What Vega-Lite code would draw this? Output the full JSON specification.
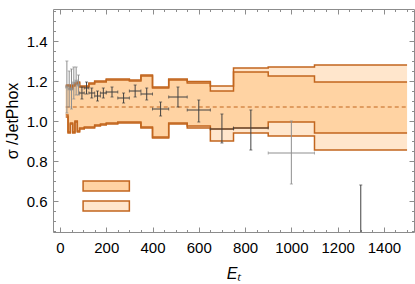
{
  "$schema": "https://vega.github.io/schema/vega-lite/v6.json",
  "width": 361,
  "height": 223,
  "autosize": "none",
  "padding": {"left": 53, "top": 9, "right": 1, "bottom": 52},
  "config": {
    "view": {"stroke": "#8c8c8c", "strokeWidth": 1},
    "font": "Liberation Sans",
    "axis": {
      "domain": false,
      "grid": false,
      "tickColor": "#8c8c8c",
      "labelColor": "#000000",
      "labelFont": "Liberation Sans",
      "titleFont": "Liberation Sans",
      "labelFontSize": 15,
      "titleFontSize": 16,
      "titleFontWeight": "normal",
      "titleColor": "#000000"
    }
  },
  "datasets": {
    "bands": [
      {"et": 25, "lo_out": 1.02, "lo_in": 1.03, "hi_in": 1.175, "hi_out": 1.18},
      {"et": 35, "lo_out": 0.94, "lo_in": 0.945, "hi_in": 1.175, "hi_out": 1.18},
      {"et": 45, "lo_out": 0.985, "lo_in": 0.99, "hi_in": 1.16, "hi_out": 1.165},
      {"et": 55, "lo_out": 0.94, "lo_in": 0.945, "hi_in": 1.175, "hi_out": 1.18},
      {"et": 65, "lo_out": 0.995, "lo_in": 1.0, "hi_in": 1.185, "hi_out": 1.19},
      {"et": 75, "lo_out": 0.945, "lo_in": 0.95, "hi_in": 1.19, "hi_out": 1.195},
      {"et": 85, "lo_out": 0.96, "lo_in": 0.965, "hi_in": 1.17, "hi_out": 1.175},
      {"et": 105, "lo_out": 0.965, "lo_in": 0.97, "hi_in": 1.17, "hi_out": 1.175},
      {"et": 125, "lo_out": 0.965, "lo_in": 0.97, "hi_in": 1.185, "hi_out": 1.19},
      {"et": 150, "lo_out": 0.975, "lo_in": 0.98, "hi_in": 1.195, "hi_out": 1.2},
      {"et": 175, "lo_out": 0.98, "lo_in": 0.985, "hi_in": 1.195, "hi_out": 1.2},
      {"et": 200, "lo_out": 0.985, "lo_in": 0.99, "hi_in": 1.205, "hi_out": 1.21},
      {"et": 250, "lo_out": 0.99, "lo_in": 0.995, "hi_in": 1.205, "hi_out": 1.21},
      {"et": 300, "lo_out": 0.99, "lo_in": 0.995, "hi_in": 1.2, "hi_out": 1.205},
      {"et": 350, "lo_out": 0.965, "lo_in": 0.97, "hi_in": 1.225, "hi_out": 1.23},
      {"et": 400, "lo_out": 0.915, "lo_in": 0.92, "hi_in": 1.165, "hi_out": 1.17},
      {"et": 470, "lo_out": 0.985, "lo_in": 0.99, "hi_in": 1.205, "hi_out": 1.21},
      {"et": 550, "lo_out": 0.965, "lo_in": 0.975, "hi_in": 1.19, "hi_out": 1.197},
      {"et": 650, "lo_out": 0.9, "lo_in": 0.96, "hi_in": 1.15, "hi_out": 1.175},
      {"et": 750, "lo_out": 0.94, "lo_in": 0.965, "hi_in": 1.245, "hi_out": 1.265},
      {"et": 900, "lo_out": 0.925, "lo_in": 0.995, "hi_in": 1.225, "hi_out": 1.27},
      {"et": 1100, "lo_out": 0.855, "lo_in": 0.94, "hi_in": 1.195, "hi_out": 1.28},
      {"et": 1500, "lo_out": 0.855, "lo_in": 0.94, "hi_in": 1.195, "hi_out": 1.28}
    ],
    "points": [
      {"lo": 25, "hi": 35, "et": 30, "y": 1.17, "ylo": 1.04, "yhi": 1.3, "grp": "g"},
      {"lo": 35, "hi": 45, "et": 40, "y": 1.16, "ylo": 1.07, "yhi": 1.25, "grp": "g"},
      {"lo": 45, "hi": 55, "et": 50, "y": 1.16, "ylo": 1.06, "yhi": 1.26, "grp": "g"},
      {"lo": 55, "hi": 65, "et": 60, "y": 1.19, "ylo": 1.11, "yhi": 1.27, "grp": "g"},
      {"lo": 65, "hi": 75, "et": 70, "y": 1.2, "ylo": 1.13, "yhi": 1.27, "grp": "g"},
      {"lo": 75, "hi": 85, "et": 80, "y": 1.18, "ylo": 1.13, "yhi": 1.23, "grp": "g"},
      {"lo": 85, "hi": 105, "et": 95, "y": 1.14, "ylo": 1.11, "yhi": 1.17, "grp": "d"},
      {"lo": 105, "hi": 125, "et": 115, "y": 1.165, "ylo": 1.135, "yhi": 1.195, "grp": "d"},
      {"lo": 125, "hi": 150, "et": 137.5, "y": 1.14, "ylo": 1.115, "yhi": 1.165, "grp": "d"},
      {"lo": 150, "hi": 175, "et": 162.5, "y": 1.125, "ylo": 1.1, "yhi": 1.15, "grp": "d"},
      {"lo": 175, "hi": 200, "et": 187.5, "y": 1.14, "ylo": 1.115, "yhi": 1.165, "grp": "d"},
      {"lo": 200, "hi": 250, "et": 225, "y": 1.145, "ylo": 1.12, "yhi": 1.17, "grp": "d"},
      {"lo": 250, "hi": 300, "et": 275, "y": 1.115, "ylo": 1.09, "yhi": 1.14, "grp": "d"},
      {"lo": 300, "hi": 350, "et": 325, "y": 1.15, "ylo": 1.12, "yhi": 1.18, "grp": "d"},
      {"lo": 350, "hi": 400, "et": 375, "y": 1.135, "ylo": 1.105, "yhi": 1.165, "grp": "d"},
      {"lo": 400, "hi": 470, "et": 435, "y": 1.06, "ylo": 1.025, "yhi": 1.095, "grp": "d"},
      {"lo": 470, "hi": 550, "et": 510, "y": 1.12, "ylo": 1.07, "yhi": 1.17, "grp": "d"},
      {"lo": 550, "hi": 650, "et": 600, "y": 1.055, "ylo": 0.995, "yhi": 1.105, "grp": "d"},
      {"lo": 650, "hi": 750, "et": 700, "y": 0.96, "ylo": 0.89, "yhi": 1.035, "grp": "d"},
      {"lo": 750, "hi": 900, "et": 825, "y": 0.965, "ylo": 0.855, "yhi": 1.055, "grp": "d"},
      {"lo": 900, "hi": 1100, "et": 1000, "y": 0.84, "ylo": 0.685, "yhi": 1.0, "grp": "g"},
      {"lo": 1100, "hi": 1500, "et": 1300, "y": 0.3, "ylo": -0.1, "yhi": 0.68, "grp": "d"}
    ],
    "ref": [{"x": 25, "x2": 1500, "y": 1.07}],
    "legend": [
      {"x": 100, "x2": 300, "y": 0.65, "y2": 0.7, "kind": "inner"},
      {"x": 100, "x2": 300, "y": 0.55, "y2": 0.6, "kind": "outer"}
    ]
  },
  "resolve": {"axis": {"x": "independent", "y": "independent"}},
  "layer": [
    {
      "data": {"name": "bands"},
      "mark": {"type": "area", "interpolate": "step-after", "color": "#FFE6CC"},
      "encoding": {
        "x": {"field": "et", "type": "quantitative", "scale": {"domain": [-30, 1530], "nice": false, "zero": false},
          "axis": {"orient": "bottom", "values": [0, 200, 400, 600, 800, 1000, 1200, 1400], "format": "d", "tickSize": -5, "labelPadding": 13, "title": "Eₜ", "titleFontStyle": "italic", "titlePadding": 10}},
        "y": {"field": "lo_out", "type": "quantitative", "scale": {"domain": [0.445, 1.56], "nice": false, "zero": false},
          "axis": {"orient": "left", "values": [0.6, 0.8, 1.0, 1.2, 1.4], "format": ".1f", "tickSize": -5, "labelPadding": 11, "title": "σ /JetPhox", "titlePadding": 6}},
        "y2": {"field": "hi_out"}
      }
    },
    {
      "data": {"name": "bands"},
      "mark": {"type": "area", "interpolate": "step-after", "color": "#FFD3A3"},
      "encoding": {
        "x": {"field": "et", "type": "quantitative", "scale": {"domain": [-30, 1530], "nice": false, "zero": false},
          "axis": {"orient": "top", "values": [0, 200, 400, 600, 800, 1000, 1200, 1400], "tickSize": -5, "labels": false, "title": null}},
        "y": {"field": "lo_in", "type": "quantitative", "scale": {"domain": [0.445, 1.56], "nice": false, "zero": false},
          "axis": {"orient": "right", "values": [0.6, 0.8, 1.0, 1.2, 1.4], "tickSize": -5, "labels": false, "title": null}},
        "y2": {"field": "hi_in"}
      }
    },
    {
      "data": {"name": "bands"},
      "mark": {"type": "line", "interpolate": "step-after", "color": "#C2661E", "strokeWidth": 1.5},
      "encoding": {
        "x": {"field": "et", "type": "quantitative", "scale": {"domain": [-30, 1530], "nice": false, "zero": false},
          "axis": {"orient": "bottom", "values": [50, 100, 150, 250, 300, 350, 450, 500, 550, 650, 700, 750, 850, 900, 950, 1050, 1100, 1150, 1250, 1300, 1350, 1450, 1500], "tickSize": -2.5, "labels": false, "title": null}},
        "y": {"field": "hi_out", "type": "quantitative", "scale": {"domain": [0.445, 1.56], "nice": false, "zero": false},
          "axis": {"orient": "left", "values": [0.45, 0.5, 0.55, 0.65, 0.7, 0.75, 0.85, 0.9, 0.95, 1.05, 1.1, 1.15, 1.25, 1.3, 1.35, 1.45, 1.5, 1.55], "tickSize": -2.5, "labels": false, "title": null}}
      }
    },
    {
      "data": {"name": "bands"},
      "mark": {"type": "line", "interpolate": "step-after", "color": "#C2661E", "strokeWidth": 1.5},
      "encoding": {
        "x": {"field": "et", "type": "quantitative", "scale": {"domain": [-30, 1530], "nice": false, "zero": false},
          "axis": {"orient": "top", "values": [50, 100, 150, 250, 300, 350, 450, 500, 550, 650, 700, 750, 850, 900, 950, 1050, 1100, 1150, 1250, 1300, 1350, 1450, 1500], "tickSize": -2.5, "labels": false, "title": null}},
        "y": {"field": "lo_out", "type": "quantitative", "scale": {"domain": [0.445, 1.56], "nice": false, "zero": false},
          "axis": {"orient": "right", "values": [0.45, 0.5, 0.55, 0.65, 0.7, 0.75, 0.85, 0.9, 0.95, 1.05, 1.1, 1.15, 1.25, 1.3, 1.35, 1.45, 1.5, 1.55], "tickSize": -2.5, "labels": false, "title": null}}
      }
    },
    {
      "data": {"name": "bands"},
      "mark": {"type": "line", "interpolate": "step-after", "color": "#C2661E", "strokeWidth": 1.5},
      "encoding": {
        "x": {"field": "et", "type": "quantitative", "scale": {"domain": [-30, 1530], "nice": false, "zero": false}, "axis": null},
        "y": {"field": "hi_in", "type": "quantitative", "scale": {"domain": [0.445, 1.56], "nice": false, "zero": false}, "axis": null}
      }
    },
    {
      "data": {"name": "bands"},
      "mark": {"type": "line", "interpolate": "step-after", "color": "#C2661E", "strokeWidth": 1.5},
      "encoding": {
        "x": {"field": "et", "type": "quantitative", "scale": {"domain": [-30, 1530], "nice": false, "zero": false}, "axis": null},
        "y": {"field": "lo_in", "type": "quantitative", "scale": {"domain": [0.445, 1.56], "nice": false, "zero": false}, "axis": null}
      }
    },
    {
      "data": {"name": "ref"},
      "mark": {"type": "rule", "color": "#C2661E", "strokeWidth": 1.2, "strokeDash": [4, 3]},
      "encoding": {
        "x": {"field": "x", "type": "quantitative", "scale": {"domain": [-30, 1530], "nice": false, "zero": false}, "axis": null},
        "x2": {"field": "x2"},
        "y": {"field": "y", "type": "quantitative", "scale": {"domain": [0.445, 1.56], "nice": false, "zero": false}, "axis": null}
      }
    },
    {
      "data": {"name": "legend"},
      "mark": {"type": "rect", "stroke": "#C2661E", "strokeWidth": 1.5},
      "encoding": {
        "x": {"field": "x", "type": "quantitative", "scale": {"domain": [-30, 1530], "nice": false, "zero": false}, "axis": null},
        "x2": {"field": "x2"},
        "y": {"field": "y", "type": "quantitative", "scale": {"domain": [0.445, 1.56], "nice": false, "zero": false}, "axis": null},
        "y2": {"field": "y2"},
        "fill": {"field": "kind", "type": "nominal", "scale": {"domain": ["inner", "outer"], "range": ["#FFD3A3", "#FFE6CC"]}, "legend": null}
      }
    },
    {
      "data": {"name": "points"},
      "mark": {"type": "rule", "strokeWidth": 1, "clip": true},
      "encoding": {
        "x": {"field": "lo", "type": "quantitative", "scale": {"domain": [-30, 1530], "nice": false, "zero": false}, "axis": null},
        "x2": {"field": "hi"},
        "y": {"field": "y", "type": "quantitative", "scale": {"domain": [0.445, 1.56], "nice": false, "zero": false}, "axis": null},
        "color": {"field": "grp", "type": "nominal", "scale": {"domain": ["g", "d"], "range": ["#8f8f8f", "#404040"]}, "legend": null}
      }
    },
    {
      "data": {"name": "points"},
      "mark": {"type": "rule", "strokeWidth": 1, "clip": true},
      "encoding": {
        "x": {"field": "et", "type": "quantitative", "scale": {"domain": [-30, 1530], "nice": false, "zero": false}, "axis": null},
        "y": {"field": "ylo", "type": "quantitative", "scale": {"domain": [0.445, 1.56], "nice": false, "zero": false}, "axis": null},
        "y2": {"field": "yhi"},
        "color": {"field": "grp", "type": "nominal", "scale": {"domain": ["g", "d"], "range": ["#8f8f8f", "#404040"]}, "legend": null}
      }
    },
    {
      "data": {"name": "points"},
      "mark": {"type": "tick", "orient": "horizontal", "size": 3, "thickness": 1, "clip": true},
      "encoding": {
        "x": {"field": "et", "type": "quantitative", "scale": {"domain": [-30, 1530], "nice": false, "zero": false}, "axis": null},
        "y": {"field": "ylo", "type": "quantitative", "scale": {"domain": [0.445, 1.56], "nice": false, "zero": false}, "axis": null},
        "color": {"field": "grp", "type": "nominal", "scale": {"domain": ["g", "d"], "range": ["#8f8f8f", "#404040"]}, "legend": null}
      }
    },
    {
      "data": {"name": "points"},
      "mark": {"type": "tick", "orient": "horizontal", "size": 3, "thickness": 1, "clip": true},
      "encoding": {
        "x": {"field": "et", "type": "quantitative", "scale": {"domain": [-30, 1530], "nice": false, "zero": false}, "axis": null},
        "y": {"field": "yhi", "type": "quantitative", "scale": {"domain": [0.445, 1.56], "nice": false, "zero": false}, "axis": null},
        "color": {"field": "grp", "type": "nominal", "scale": {"domain": ["g", "d"], "range": ["#8f8f8f", "#404040"]}, "legend": null}
      }
    },
    {
      "data": {"name": "points"},
      "mark": {"type": "tick", "orient": "vertical", "size": 3, "thickness": 1, "clip": true},
      "encoding": {
        "x": {"field": "lo", "type": "quantitative", "scale": {"domain": [-30, 1530], "nice": false, "zero": false}, "axis": null},
        "y": {"field": "y", "type": "quantitative", "scale": {"domain": [0.445, 1.56], "nice": false, "zero": false}, "axis": null},
        "color": {"field": "grp", "type": "nominal", "scale": {"domain": ["g", "d"], "range": ["#8f8f8f", "#404040"]}, "legend": null}
      }
    },
    {
      "data": {"name": "points"},
      "mark": {"type": "tick", "orient": "vertical", "size": 3, "thickness": 1, "clip": true},
      "encoding": {
        "x": {"field": "hi", "type": "quantitative", "scale": {"domain": [-30, 1530], "nice": false, "zero": false}, "axis": null},
        "y": {"field": "y", "type": "quantitative", "scale": {"domain": [0.445, 1.56], "nice": false, "zero": false}, "axis": null},
        "color": {"field": "grp", "type": "nominal", "scale": {"domain": ["g", "d"], "range": ["#8f8f8f", "#404040"]}, "legend": null}
      }
    }
  ]
}
